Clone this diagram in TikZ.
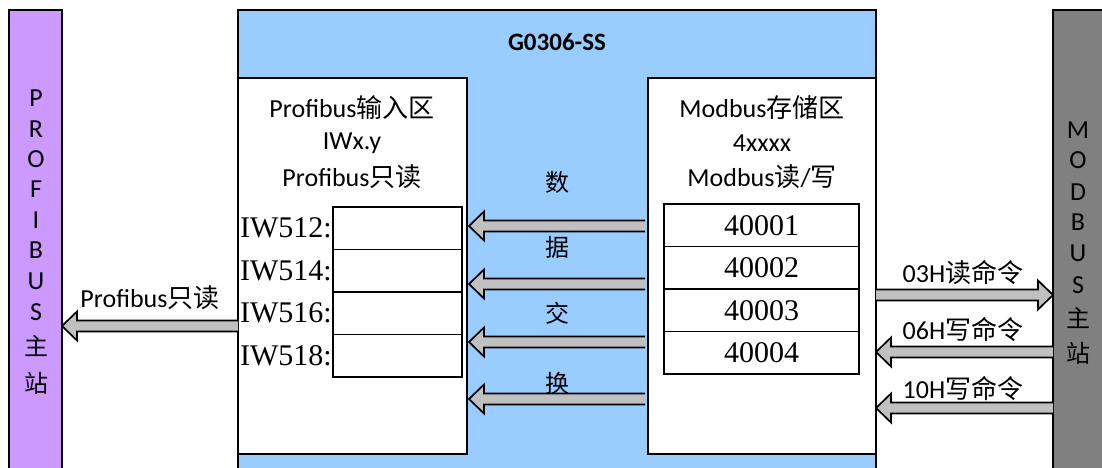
\documentclass[tikz,border=0pt]{standalone}
\usepackage{fontspec}
\setmainfont{Carlito}
\newfontfamily\cjk{Noto Sans CJK SC}
\newfontfamily\tnr{Liberation Serif}
\usetikzlibrary{calc}
\definecolor{purp}{HTML}{CC99FF}
\definecolor{lblue}{HTML}{99CCFF}
\definecolor{dgray}{HTML}{808080}
\definecolor{agray}{HTML}{C0C0C0}
\newcommand{\fatarr}[3]{%
  \fill[agray] ($(#1)+(0,-5.5)$) -- ($(#2)+(#3*15,-5.5)$) -- ($(#2)+(#3*15,-14.5)$) -- (#2) -- ($(#2)+(#3*15,14.5)$) -- ($(#2)+(#3*15,5.5)$) -- ($(#1)+(0,5.5)$) -- cycle;
  \draw[fatline] ($(#1)+(0,-5.5)$) -- ($(#2)+(#3*15,-5.5)$) -- ($(#2)+(#3*15,-14.5)$) -- (#2) -- ($(#2)+(#3*15,14.5)$) -- ($(#2)+(#3*15,5.5)$) -- ($(#1)+(0,5.5)$);}
\begin{document}
\begin{tikzpicture}[x=1pt,y=-1pt,
  fatline/.style={line width=1.7pt, line join=miter},
  outer/.style={line width=1.8pt},
  cell/.style={draw, line width=1.4pt, inner sep=0, outer sep=0, fill=white},
  lcell/.style={cell, minimum width=129pt, minimum height=42.5pt},
  rcell/.style={cell, minimum width=195pt, minimum height=42.5pt, font=\tnr\fontsize{30}{32}\selectfont},
  reglab/.style={anchor=east, inner sep=0, font=\tnr\fontsize{30}{32}\selectfont},
  txt/.style={inner sep=0, font=\fontsize{26}{28}\selectfont},
  xchg/.style={inner sep=0, font=\cjk\fontsize{24}{26}\selectfont},
  barlet/.style={inner sep=0, font=\fontsize{26}{28}\selectfont},
  barcjk/.style={inner sep=0, font=\cjk\fontsize{24}{26}\selectfont}]
\useasboundingbox (0,0) rectangle (1102,468);
\fill[white] (0,0) rectangle (1102,468);
% purple bar
\fill[purp] (9,10) rectangle (62,468);
\draw[outer] (9,468) -- (9,10) -- (62,10) -- (62,468);
% gray bar
\fill[dgray] (1053,10) rectangle (1102,468);
\draw[outer] (1053,468) -- (1053,10) -- (1102,10);
% blue main box
\fill[lblue] (238,10) rectangle (876,468);
\draw[outer] (238,468) -- (238,10) -- (876,10) -- (876,468);
% white inner boxes
\node[draw, line width=1.8pt, fill=white, inner sep=0, outer sep=0, minimum width=229pt, minimum height=376pt, anchor=north west] (lbox) at (238,78) {};
\node[draw, line width=1.8pt, fill=white, inner sep=0, outer sep=0, minimum width=228pt, minimum height=376pt, anchor=north west] (rbox) at (648,78) {};
% title
\node[inner sep=0, font=\bfseries\fontsize{25}{28}\selectfont] (title) at (557,42) {G0306-SS};
% left box headings
\node[txt] (lh1) at (352,108) {Profibus{\cjk 输入区}};
\node[txt] (lh2) at (352,143) {IWx.y};
\node[txt] (lh3) at (352,177) {Profibus{\cjk 只读}};
% right box headings
\node[txt] (rh1) at (762,108) {Modbus{\cjk 存储区}};
\node[txt] (rh2) at (762,143) {4xxxx};
\node[txt] (rh3) at (762,177) {Modbus{\cjk 读}/{\cjk 写}};
% left cells
\node[lcell] (L1) at (397.5,228.25) {};
\node[lcell] (L2) at (397.5,270.75) {};
\node[lcell] (L3) at (397.5,313.25) {};
\node[lcell] (L4) at (397.5,355.75) {};
\node[reglab] (IW1) at ([xshift=-1pt]L1.west) {IW512:};
\node[reglab] (IW2) at ([xshift=-1pt]L2.west) {IW514:};
\node[reglab] (IW3) at ([xshift=-1pt]L3.west) {IW516:};
\node[reglab] (IW4) at ([xshift=-1pt]L4.west) {IW518:};
% right cells
\node[rcell] (R1) at (761.5,225.25) {40001};
\node[rcell] (R2) at (761.5,267.75) {40002};
\node[rcell] (R3) at (761.5,310.25) {40003};
\node[rcell] (R4) at (761.5,352.75) {40004};
% exchange text
\node[xchg] (x1) at (557,182) {数};
\node[xchg] (x2) at (557,247) {据};
\node[xchg] (x3) at (557,313) {交};
\node[xchg] (x4) at (557,383) {换};
% middle arrows
\coordinate (m1s) at (645,226); \coordinate (m1e) at (469,226);
\coordinate (m2s) at (645,284); \coordinate (m2e) at (469,284);
\coordinate (m3s) at (645,342); \coordinate (m3e) at (469,342);
\coordinate (m4s) at (645,399); \coordinate (m4e) at (469,399);
\fatarr{m1s}{m1e}{1}
\fatarr{m2s}{m2e}{1}
\fatarr{m3s}{m3e}{1}
\fatarr{m4s}{m4e}{1}
% left arrow
\coordinate (ls) at (238,326); \coordinate (le) at (62,326);
\fatarr{ls}{le}{1}
\node[txt] (llab) at (150,298) {Profibus{\cjk 只读}};
% right arrows
\coordinate (r1s) at (876,295); \coordinate (r1e) at (1053,295);
\coordinate (r2s) at (1053,352); \coordinate (r2e) at (876,352);
\coordinate (r3s) at (1053,408); \coordinate (r3e) at (876,408);
\fatarr{r1s}{r1e}{-1}
\fatarr{r2s}{r2e}{1}
\fatarr{r3s}{r3e}{1}
\node[txt] (rl1) at (963,273) {03H{\cjk 读命令}};
\node[txt] (rl2) at (963,330) {06H{\cjk 写命令}};
\node[txt] (rl3) at (963,389) {10H{\cjk 写命令}};
% purple bar letters
\node[barlet] (p1) at (36,98) {P};
\node[barlet] (p2) at (36,129) {R};
\node[barlet] (p3) at (36,159) {O};
\node[barlet] (p4) at (36,189) {F};
\node[barlet] (p5) at (36,220) {I};
\node[barlet] (p6) at (36,250) {B};
\node[barlet] (p7) at (36,281) {U};
\node[barlet] (p8) at (36,312) {S};
\node[barcjk] (p9) at (36,346) {主};
\node[barcjk] (p10) at (36,383) {站};
% gray bar letters
\node[barlet] (g1) at (1078,130) {M};
\node[barlet] (g2) at (1078,160) {O};
\node[barlet] (g3) at (1078,192) {D};
\node[barlet] (g4) at (1078,222) {B};
\node[barlet] (g5) at (1078,253) {U};
\node[barlet] (g6) at (1078,285) {S};
\node[barcjk] (g7) at (1078,318) {主};
\node[barcjk] (g8) at (1078,353) {站};
\end{tikzpicture}
\end{document}
